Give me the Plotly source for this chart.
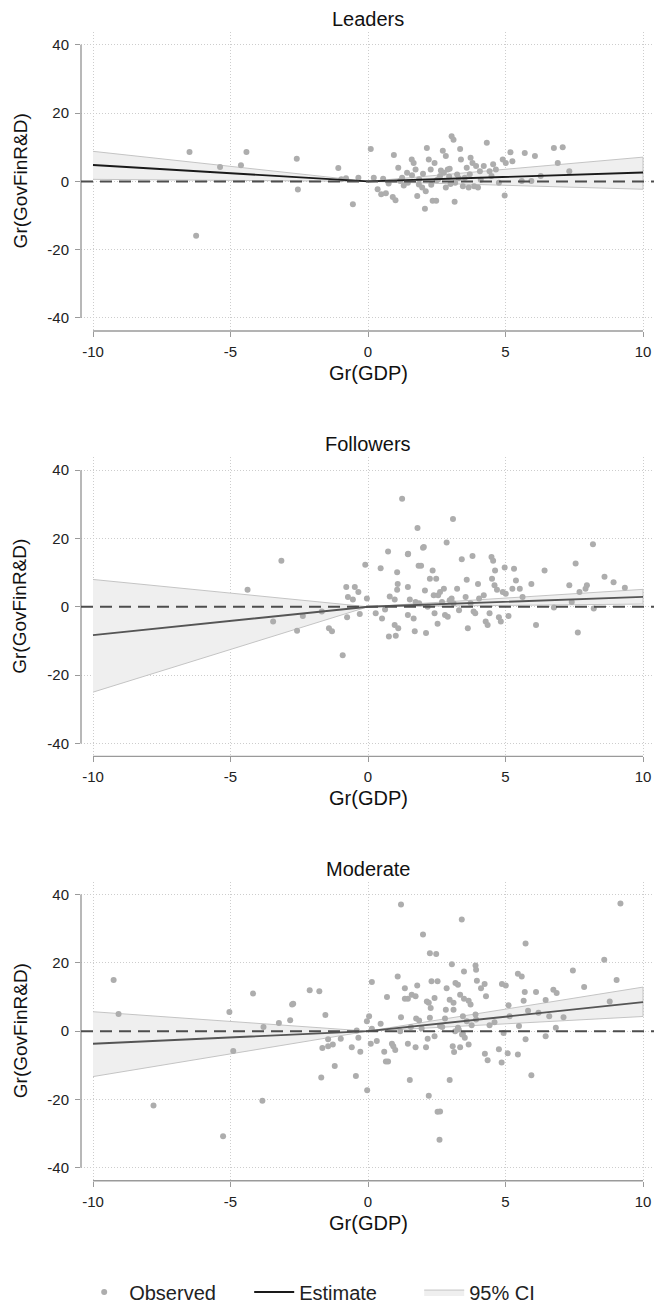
import plotly.graph_objects as go

# ---------------- data ----------------
panel_names = ["Leaders", "Followers", "Moderate"]
x_title = "Gr(GDP)"
y_title = "Gr(GovFinR&D)"
x_ticks = [-10, -5, 0, 5, 10]
x_ticklabels = ["-10", "-5", "0", "5", "10"]
y_ticks = [-40, -20, 0, 20, 40]
y_ticklabels = ["-40", "-20", "0", "20", "40"]

# fitted line / CI evaluated at these GDP growth values
fit_x = [-10, 0, 10]
leaders_est = [4.8, 0.0, 2.6]
leaders_lo = [0.6, 0.0, -2.3]
leaders_hi = [8.8, 0.0, 7.1]
followers_est = [-8.3, 0.0, 2.9]
followers_lo = [-25.0, 0.0, 0.8]
followers_hi = [8.0, 0.0, 5.1]
moderate_est = [-3.7, 0.0, 8.5]
moderate_lo = [-13.3, 0.0, 4.3]
moderate_hi = [5.7, 0.0, 12.9]

# observed points
leaders_x = [-6.49, -4.42, -5.38, -4.62, -2.59, -2.55, -1.08, -0.55, -0.97, -0.35, 0.10, 0.21, 0.35, 0.48,
             0.65, 0.90, 1.00, 0.94, 1.10, 1.24, 1.42, 1.59, 1.66, 1.73, 1.79, 1.86, 1.97, 2.07, 2.14, 2.21,
             2.28, 2.35, 2.42, 2.48, 2.55, 2.62, 2.72, 2.76, 2.83, 2.83, 2.90, 2.97, 3.04, 3.11, 3.15, 3.17,
             3.24, 3.35, 3.38, 3.45, 3.52, 3.59, 3.66, 3.73, 3.80, 3.86, 3.93, 4.00, 4.07, 4.21, 4.32, 4.42,
             4.49, 4.55, 4.65, 4.76, 4.90, 4.97, 5.01, 5.18, 5.25, 5.59, 5.70, 5.94, 6.07, 6.28, 6.76, 6.90,
             7.08, 7.32, -6.25, 1.17, 1.45, 1.60, 2.00, 2.30, 2.65, 3.00, 3.30, 0.55, 0.75, -0.80, 1.30,
             2.10, 2.50, 3.70, 4.10, 1.85, 2.95]
leaders_y = [8.6, 8.6, 4.2, 4.7, 6.6, -2.4, 3.9, -6.7, 0.6, 1.1, 9.5, 1.1, -2.3, -3.8,
             -3.5, -4.6, -5.5, 7.7, 4.0, 1.1, 2.5, 6.4, 5.4, 3.5, -4.3, 0.6, -1.8, -8.0, 9.8, 6.4,
             3.5, -5.7, 5.4, -5.7, 0.6, 1.6, 9.0, 2.5, 7.4, -1.8, 3.5, 3.7, 13.2, 12.2, -6.0, -0.4,
             2.0, 9.5, 6.4, -1.4, 1.1, 4.0, -1.8, 6.9, 5.4, -1.4, 4.5, -1.8, 3.0, 4.5, 11.3, 3.0,
             1.6, 5.0, 3.5, -0.4, 6.4, -4.1, 5.4, 8.5, 5.9, 0.1, 8.3, 0.1, 7.4, 1.6, 9.8, 5.4,
             10.0, 3.0, -15.9, 0.1, -0.4, 1.8, 2.2, -1.0, 3.2, -0.8, 0.9, 0.8, -0.6, 0.9, -1.2,
             -2.9, 0.3, 2.1, 0.5, -0.9, 1.4]

followers_x = [-3.15, -4.38, -3.45, -2.58, -2.37, -1.68, -1.42, -1.31, -0.92, -0.79, -0.73, -0.55, -0.48,
               -0.35, -0.30, -0.76, -0.10, -0.04, 0.28, 0.46, 0.51, 0.62, 0.73, 0.76, 0.97, 1.01, 1.06, 1.08,
               1.10, 1.06, 0.97, 1.45, 1.45, 1.45, 1.52, 1.66, 1.70, 1.73, 1.84, 1.93, 1.86, 2.00, 2.07,
               2.11, 2.17, 2.25, 2.35, 2.39, 2.42, 2.48, 2.53, 2.55, 2.62, 2.69, 2.76, 2.80, 2.86, 2.90,
               2.97, 3.04, 3.11, 3.24, 3.31, 3.41, 3.55, 3.59, 3.63, 3.73, 3.80, 3.84, 3.90, 4.00, 4.04,
               4.21, 4.28, 4.35, 4.42, 4.49, 4.51, 4.55, 4.60, 4.62, 4.69, 4.76, 4.83, 4.90, 4.97, 5.01,
               5.11, 5.25, 5.31, 5.38, 5.52, 5.62, 5.94, 6.11, 6.42, 6.76, 7.32, 7.41, 7.55, 7.63, 7.69,
               7.91, 7.96, 8.18, 8.21, 8.60, 8.93, 9.34, 1.24, 1.80, 3.09, 1.46, 2.03, 0.79]
followers_y = [13.5, 5.0, -4.3, -7.0, -2.7, -1.4, -6.3, -7.2, -14.2, 5.8, 2.9, 2.1, 5.8,
               4.3, -2.1, -3.1, 12.3, 2.4, -1.9, 11.3, -3.4, -0.8, 16.2, -8.7, -5.3, -8.5, 10.1, 6.7,
               -6.3, 5.0, 2.1, 15.4, 5.8, -2.4, 2.1, -3.4, -7.2, 1.4, 12.0, 12.0, 1.0, 17.3, 4.8,
               -7.7, 0.0, 8.2, 10.6, 3.4, -1.9, 8.2, -5.0, 3.4, 4.3, 1.4, 5.3, -2.4, 18.8, -2.9,
               1.9, 2.4, 1.0, 5.3, -1.0, 13.9, 2.9, 7.9, -6.3, 1.0, 14.9, -1.4, -1.9, 6.7, 2.4,
               3.4, -4.3, -5.3, -1.9, 14.6, 8.2, 13.5, 6.3, 10.6, 5.0, -3.1, -4.3, 4.3, 11.5, 3.8,
               -2.7, 5.3, 11.1, 7.7, 5.3, 2.9, 6.7, -5.3, 10.6, -0.2, 6.3, 1.4, 12.7, -7.5, 4.3,
               5.3, 6.3, 18.3, -0.5, 8.8, 7.2, 5.6, 31.6, 23.1, 25.7, 15.5, 17.5, 3.0]

moderate_x = [-9.25, 1.20, 3.41, 2.00, 2.25, 2.48, 5.73, 9.18, 8.59, 3.05, 3.91, 3.93, 3.49, 7.45, 5.45, 5.59,
              1.08, 0.14, 9.04, 2.31, 2.53, 3.18, 3.27, 3.96, 4.24, 4.87, 5.01, 2.86, 1.79, 1.34, 4.11, 7.86,
              5.70, 6.11, 6.74, 6.86, -4.18, -2.12, -1.77, -2.72, 0.69, 1.34, 1.45, 1.59, 1.73, 2.42, 2.97,
              3.11, 3.35, 3.49, 3.66, 3.73, 4.29, 5.11, 5.66, 6.46, 8.79, 2.21, 2.28, 2.14, 2.83, 3.11, 5.82,
              -9.07, -5.04, -4.90, -3.80, -3.24, -2.83, -2.76, -7.80, -3.84, -1.55, -1.66, -1.45, -1.45, -1.28,
              -1.21, -0.99, -1.70, -0.59, -0.44, -0.41, -0.35, -0.28, -0.04, -0.03, 0.04, 0.10, 0.14, 0.32,
              0.46, 0.59, 0.65, 0.73, 0.87, 0.92, 0.99, 1.20, 1.17, 1.45, 1.52, 1.56, 1.73, 1.75, 1.86, 2.11,
              2.17, 2.21, 2.25, 2.42, 2.53, 2.62, 2.62, 2.80, 2.97, 3.08, 3.13, 3.17, 3.27, 3.35, 3.42, 3.45,
              3.52, 3.66, 3.59, 3.77, 3.91, 3.93, 4.25, 4.35, 4.42, 4.76, 4.86, 4.93, 5.08, 5.15, 5.45, 5.49,
              5.73, 5.94, 6.46, 6.59, 6.83, 7.11, -5.27, 2.60, 3.30, 3.45, 2.70, 4.60, 6.20, 1.95]
moderate_y = [15.0, 37.1, 32.7, 28.3, 22.8, 22.6, 25.7, 37.4, 20.9, 19.6, 19.2, 18.0, 17.5, 17.8, 16.8, 16.0,
              16.0, 14.4, 15.0, 14.6, 14.6, 14.1, 13.6, 14.8, 13.8, 13.8, 13.4, 12.6, 13.4, 12.6, 12.6, 12.9,
              11.5, 11.5, 12.1, 11.2, 11.0, 12.0, 11.7, 8.0, 10.0, 9.5, 9.5, 10.7, 10.2, 9.7, 9.2,
              8.3, 10.7, 9.5, 8.9, 7.8, 10.2, 7.6, 8.9, 9.1, 8.7, 8.3, 6.8, 8.7, 6.3, 6.3, 6.0,
              5.0, 5.6, -5.8, 1.2, 2.4, 3.2, 7.8, -21.8, -20.4, 4.7, -4.9, -2.4, -4.4, -3.9,
              -10.2, -2.2, -13.6, -4.7, -13.1, 0.2, -1.9, -6.0, 2.9, -17.3, 4.4, -3.7, 0.7, -2.9,
              2.2, -6.0, -8.9, -8.9, -3.7, -4.4, -5.5, 4.1, 0.0, -3.7, -14.3, 1.2, -4.7, 3.7, 3.1, -4.7,
              -2.2, -18.9, 3.9, -1.5, -23.6, -23.5, 1.5, 3.7, -14.3, -4.4, -6.1, 0.0, 1.0, -4.7, -1.0, 4.4,
              -1.9, -3.9, 2.9, 1.7, 4.9, 3.4, -6.6, -8.5, 1.7, -5.3, -9.2, -0.5, -6.5, 4.4, -6.8, 1.5,
              -2.4, -12.9, -1.5, 4.4, 1.0, 4.1, -30.8, -31.8, 0.5, -0.8, 1.2, 2.6, 5.4, 0.8]

panels = [
    dict(name=panel_names[0], ox=leaders_x, oy=leaders_y, est=leaders_est, lo=leaders_lo, hi=leaders_hi,
         line_color="#1a1a1a"),
    dict(name=panel_names[1], ox=followers_x, oy=followers_y, est=followers_est, lo=followers_lo,
         hi=followers_hi, line_color="#555555"),
    dict(name=panel_names[2], ox=moderate_x, oy=moderate_y, est=moderate_est, lo=moderate_lo,
         hi=moderate_hi, line_color="#555555"),
]

# ---------------- layout geometry (pixels) ----------------
W, H = 654, 1312
plot_left = 81
panel_tops = [32, 460, 887]
panel_h = 301
font_family = "Liberation Sans, Arial, sans-serif"

fig = go.Figure()
layout = dict(
    width=W, height=H, margin=dict(l=0, r=0, t=0, b=0),
    paper_bgcolor="white", plot_bgcolor="white",
    font=dict(family=font_family, color="#222222"),
    showlegend=True,
    legend=dict(orientation="h", x=0.511, xanchor="center", y=1 - 1300 / H, yanchor="middle",
                font=dict(size=20, color="#222222"), itemwidth=40, entrywidth=115,
                traceorder="normal", bgcolor="rgba(0,0,0,0)"),
)
annotations = []
shapes = []

for i, p in enumerate(panels):
    xa = "x" if i == 0 else f"x{i + 1}"
    ya = "y" if i == 0 else f"y{i + 1}"
    top = panel_tops[i]
    bot = top + panel_h
    dom_y = [1 - bot / H, 1 - top / H]
    first = i == 0

    # CI band
    fig.add_trace(go.Scatter(
        x=fit_x + fit_x[::-1], y=p["hi"] + p["lo"][::-1], fill="toself",
        fillcolor="#efefef", line=dict(color="#c4c4c4", width=1), mode="lines",
        name="95% CI", legendrank=3, showlegend=first, xaxis=xa, yaxis=ya, hoverinfo="skip"))
    # observed
    fig.add_trace(go.Scatter(
        x=p["ox"], y=p["oy"], mode="markers",
        marker=dict(color="#adadad", size=6, line=dict(width=0)),
        name="Observed", legendrank=1, showlegend=first, xaxis=xa, yaxis=ya))
    # estimate
    fig.add_trace(go.Scatter(
        x=fit_x, y=p["est"], mode="lines", line=dict(color=p["line_color"], width=1.9),
        name="Estimate", legendrank=2, showlegend=first, xaxis=xa, yaxis=ya))

    axis_common = dict(showline=False, zeroline=False, showgrid=True, gridcolor="#cdcdcd",
                       griddash="1px,2px", gridwidth=1, ticks="outside", ticklen=5, tickwidth=1.2,
                       tickcolor="#9a9a9a", tickfont=dict(size=15, color="#222222"))
    layout["xaxis" if i == 0 else f"xaxis{i + 1}"] = dict(
        axis_common, domain=[plot_left / W, 1.0],
        range=[-10 - 12 / 27.5, 10 + 11 / 27.5],
        tickvals=x_ticks, ticktext=x_ticklabels, anchor=ya, ticklabelstandoff=2)
    layout["yaxis" if i == 0 else f"yaxis{i + 1}"] = dict(
        axis_common, domain=dom_y, range=[-43.8, 43.8],
        tickvals=y_ticks, ticktext=y_ticklabels, anchor=xa, ticklabelstandoff=3)

    # axis lines spanning only the tick range
    shapes.append(dict(type="line", xref=f"{xa} domain", yref=ya, x0=0, x1=0, y0=-40, y1=40,
                       line=dict(color="#9a9a9a", width=1.4), layer="above"))
    shapes.append(dict(type="line", xref=xa, yref=f"{ya} domain", x0=-10, x1=10, y0=0, y1=0,
                       line=dict(color="#9a9a9a", width=1.4), layer="above"))
    # dashed zero reference line
    shapes.append(dict(type="line", xref=f"{xa} domain", yref=ya, x0=0, x1=1, y0=0, y1=0,
                       line=dict(color="#4d4d4d", width=2, dash="12px,7px"), layer="above"))

    # titles
    annotations.append(dict(text=p["name"], xref=xa, x=0, yref="paper", y=1 - (top - 13) / H,
                            showarrow=False, font=dict(size=20, color="#111111"),
                            xanchor="center", yanchor="middle"))
    annotations.append(dict(text=x_title, xref=xa, x=0, yref="paper", y=1 - (bot + 42) / H,
                            showarrow=False, font=dict(size=20, color="#111111"),
                            xanchor="center", yanchor="middle"))
    annotations.append(dict(text=y_title, xref="paper", x=20 / W, yref="paper",
                            y=1 - (top + panel_h / 2) / H, textangle=-90, showarrow=False,
                            font=dict(size=19, color="#111111"), xanchor="center", yanchor="middle"))

layout["annotations"] = annotations
layout["shapes"] = shapes
fig.update_layout(**layout)
fig.write_html("out.html", config={"displayModeBar": False},
               post_script="document.body.style.margin='0';document.body.style.overflow='hidden';")
